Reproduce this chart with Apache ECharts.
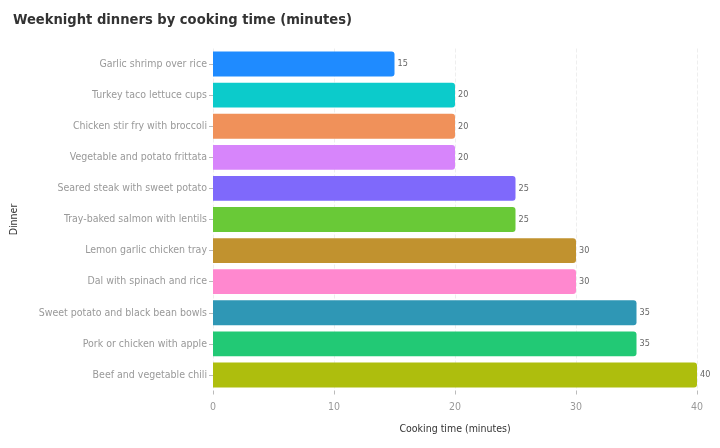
<!DOCTYPE html>
<html><head><meta charset="utf-8">
<script src="https://cdn.jsdelivr.net/npm/echarts@6/dist/echarts.min.js"></script>
<style>html,body{margin:0;padding:0;background:#fff}#c{width:720px;height:448px}</style>
</head><body><div id="c"></div>
<script>
const categories = ["Garlic shrimp over rice","Turkey taco lettuce cups","Chicken stir fry with broccoli","Vegetable and potato frittata","Seared steak with sweet potato","Tray-baked salmon with lentils","Lemon garlic chicken tray","Dal with spinach and rice","Sweet potato and black bean bowls","Pork or chicken with apple","Beef and vegetable chili"];
const minutes = [15,20,20,20,25,25,30,30,35,35,40];
const colors = ["#1f8bff","#0ccbcb","#f0915a","#d785fb","#7f69fb","#69c937","#c1922f","#ff88cf","#2f97b5","#22c975","#aebe0d"];
const xTicks = [0,10,20,30,40];

const chart = echarts.init(document.getElementById('c'));
const font = "'DejaVu Sans Condensed', 'DejaVu Sans'";
chart.setOption({
  animation:false,
  title:{text:"Weeknight dinners by cooking time (minutes)",left:8,top:8,textStyle:{fontFamily:font,fontSize:14.6,fontWeight:'bold',color:'#333'}},
  grid:{left:213,right:23,top:48.5,bottom:57.5,containLabel:false,outerBoundsMode:'none'},
  xAxis:{type:'value',min:xTicks[0],max:xTicks[xTicks.length-1],interval:10,
    name:"Cooking time (minutes)",nameLocation:'middle',nameGap:33,nameMoveOverlap:false,
    nameTextStyle:{fontFamily:font,fontSize:10.5,color:'#333'},
    axisLine:{show:false},axisTick:{show:true,length:4,lineStyle:{color:'#bbb'}},
    axisLabel:{fontFamily:font,fontSize:10.5,color:'#999',margin:11},
    splitLine:{show:true,lineStyle:{type:'dashed',color:'#eee'}}},
  yAxis:{type:'category',data:categories,inverse:true,
    name:"Dinner",nameLocation:'middle',nameGap:193,nameRotate:90,nameMoveOverlap:false,
    nameTextStyle:{fontFamily:font,fontSize:10.5,color:'#333'},
    axisLine:{show:false},axisTick:{show:true,alignWithLabel:true,length:4,lineStyle:{color:'#bbb'}},
    axisLabel:{fontFamily:font,fontSize:10.5,color:'#999',margin:6}},
  series:[{type:'bar',barWidth:'80%',
    data:minutes.map((v,i)=>({value:v,itemStyle:{color:colors[i]}})),
    itemStyle:{borderRadius:[0,3,3,0]},
    label:{show:true,position:'right',distance:3,fontFamily:font,fontSize:9,color:'#666'}}]
});
</script></body></html>
